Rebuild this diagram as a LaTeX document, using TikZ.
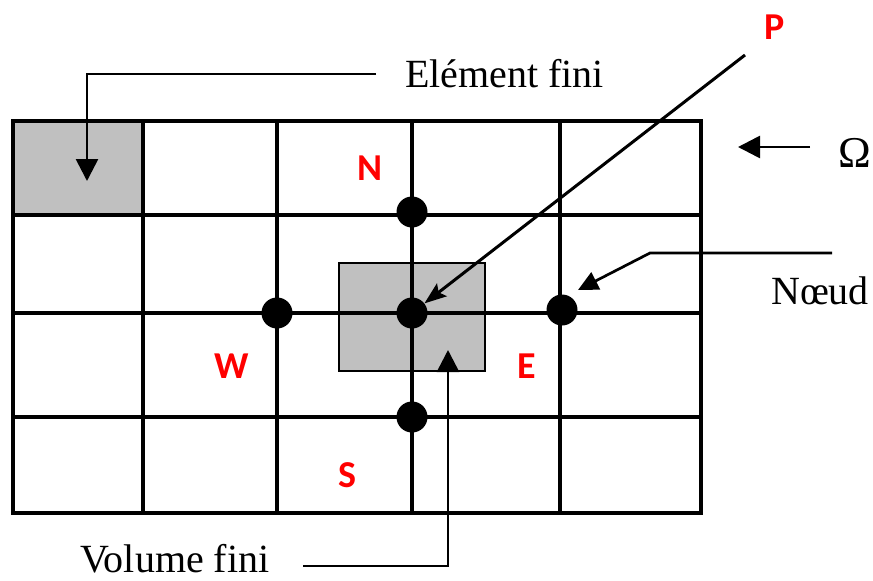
\documentclass[tikz,border=0pt]{standalone}
\usepackage{fontspec}
\setmainfont{Liberation Serif}
\newfontfamily\labfont{Carlito}
\usetikzlibrary{arrows.meta}
\definecolor{cellgray}{RGB}{192,192,192}
\definecolor{labred}{RGB}{255,0,0}
\begin{document}
\begin{tikzpicture}[x=1pt,y=-1pt,
  gridline/.style={line width=3.5pt},
  dotnode/.style={circle,fill=black,minimum size=31pt,inner sep=0pt},
  redlab/.style={font=\labfont\bfseries\fontsize{38}{38}\selectfont,text=labred,inner sep=0pt},
  caption/.style={font=\fontsize{40}{40}\selectfont,inner sep=0pt,anchor=base west},
  leader/.style={line width=2.7pt},
  bigtip/.style={-{Triangle[length=22pt,width=22pt]}},
  midtip/.style={-{Triangle[length=20pt,width=19pt]}},
  slimtip/.style={-{Stealth[length=22pt,width=16pt,inset=4pt]}}]
\useasboundingbox (0,0) rectangle (873,581);
% gray cells
\fill[cellgray] (13,121) rectangle (143,215);
\fill[cellgray] (339,263) rectangle (485,371);
% grid
\foreach \x in {13,143,277,412,560,701} \draw[gridline] (\x,121) -- (\x,513);
\foreach \y in {121,215,313,417,513} \draw[gridline] (13,\y) -- (701,\y);
\draw[gridline] (13,121) rectangle (701,513);
% finite volume border
\draw[line width=2.6pt] (339,263) rectangle (485,371);
% nodes
\node[dotnode] (N) at (412,212) {};
\node[dotnode] (W) at (277,313) {};
\node[dotnode] (P) at (412,313) {};
\node[dotnode] (E) at (562,310) {};
\node[dotnode] (S) at (412,417) {};
% red labels
\node[redlab] (lN) at (370,168) {N};
\node[redlab] (lW) at (232,366) {W};
\node[redlab] (lE) at (527,366) {E};
\node[redlab] (lS) at (347,475) {S};
\node[redlab] (lP) at (775,27) {P};
% captions
\node[caption] (elem) at (405,87) {Elément fini};
\node[caption] (noeud) at (771,304) {Nœud};
\node[caption] (vol) at (80,572) {Volume fini};
\node[font=\fontsize{44}{44}\selectfont,inner sep=0pt,anchor=base west] (omega) at (838,167) {Ω};
% leader coordinates
\coordinate (elemA) at (376,74);
\coordinate (elemB) at (87,74);
\coordinate (elemT) at (87,181);
\coordinate (pA) at (745,55);
\coordinate (nA) at (832,253);
\coordinate (nB) at (650,253);
\coordinate (nT) at (578,290);
\coordinate (vA) at (303,566);
\coordinate (vB) at (448,566);
\coordinate (vT) at (448,350);
\coordinate (oA) at (810,147);
\coordinate (oT) at (738,147);
% leaders
\draw[leader,bigtip] (elemA) -- (elemB) -- (elemT);
\draw[line width=3pt,slimtip] (pA) -- (P);
\draw[leader,midtip] (nA) -- (nB) -- (nT);
\draw[leader,bigtip] (vA) -- (vB) -- (vT);
\draw[leader,bigtip] (oA) -- (oT);
\end{tikzpicture}
\end{document}
